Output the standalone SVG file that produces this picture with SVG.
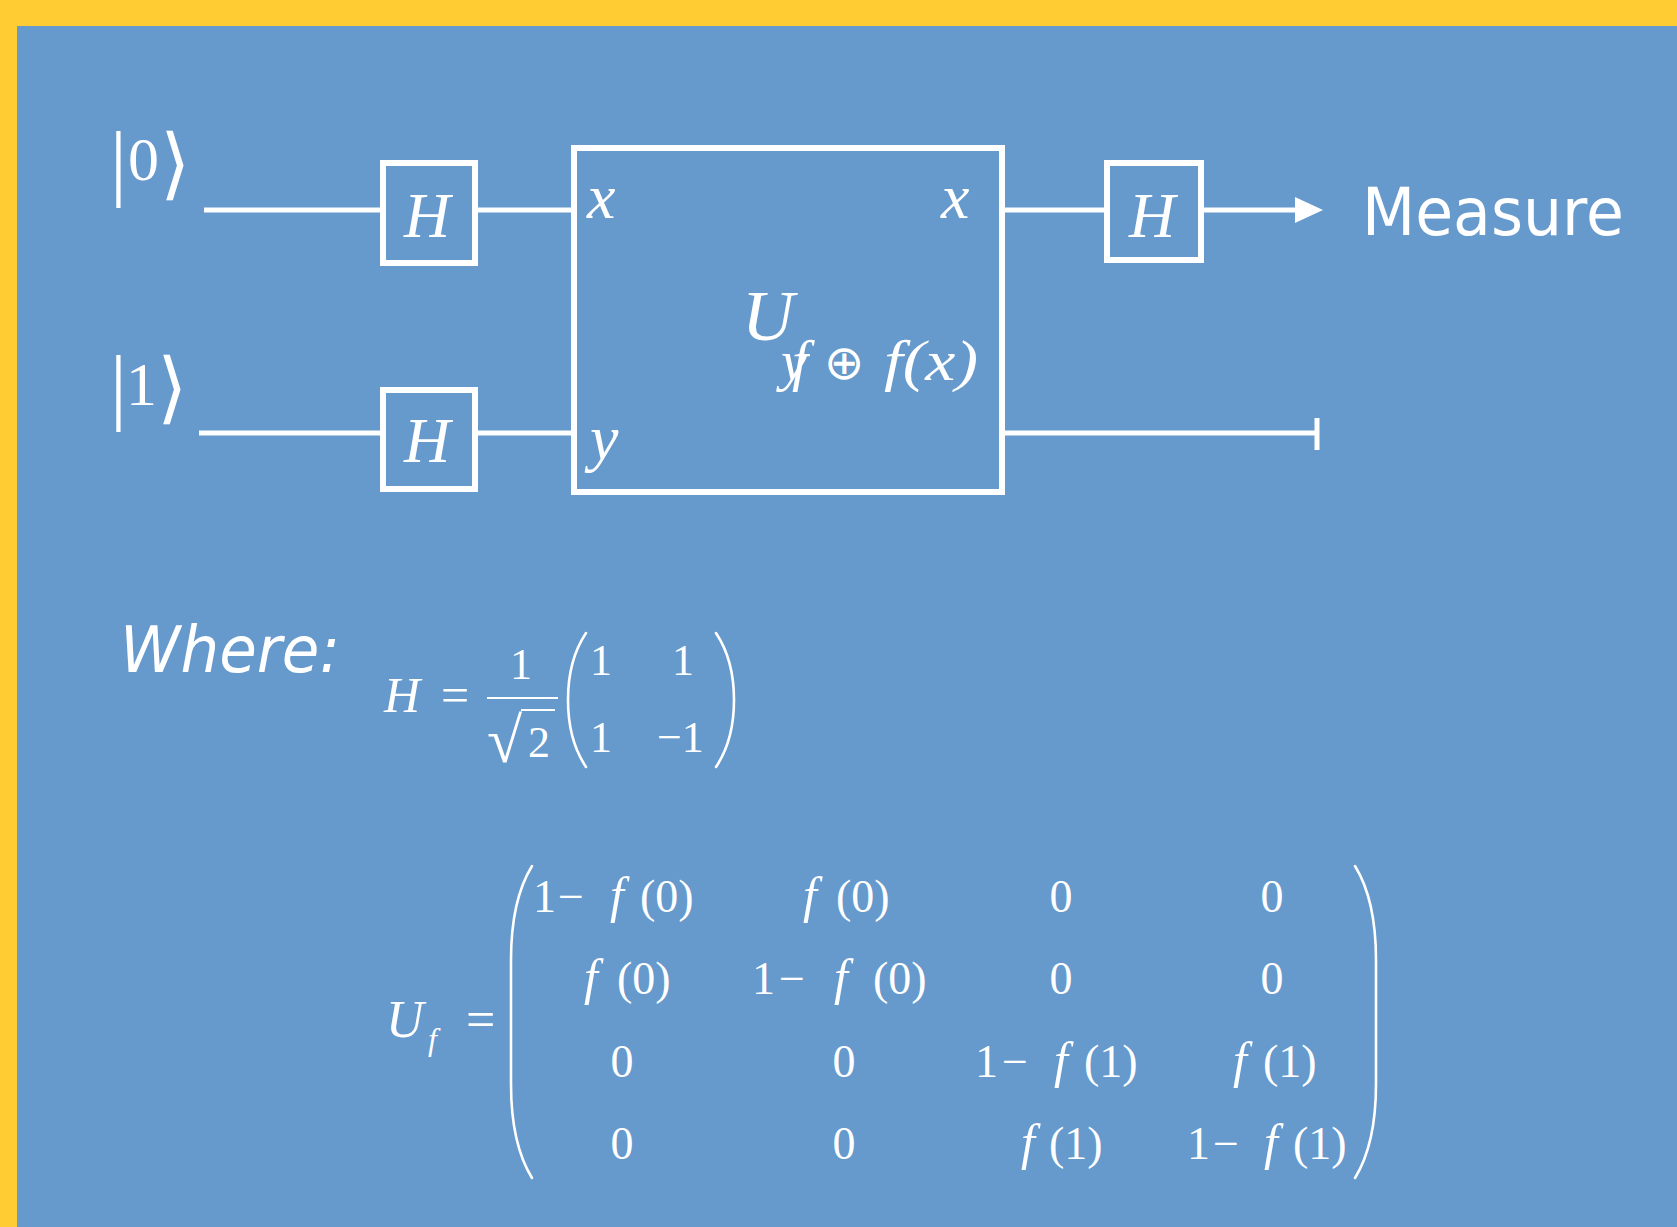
<svg xmlns="http://www.w3.org/2000/svg" width="1677" height="1227" viewBox="0 0 1677 1227">
<style>
.wire{stroke:#fff;stroke-width:5;fill:none}
.box{stroke:#fff;stroke-width:6;fill:none}
.delim{stroke:#fff;stroke-width:2.6;fill:none;stroke-linecap:round}
.m{font-family:"Liberation Serif","Times New Roman",serif;fill:#fff}
.i{font-style:italic}
.s{font-family:"DejaVu Sans",Verdana,sans-serif;fill:#fff}
.ff{font-style:italic;font-size:50px}
</style>
<defs>
<marker id="arr" markerUnits="userSpaceOnUse" markerWidth="30" markerHeight="26" refX="2" refY="13" orient="auto">
<path d="M0,0 L28,13 L0,26 z" fill="#fff"/>
</marker>
</defs>
<rect x="0" y="0" width="1677" height="1227" fill="#FFCC33"/>
<rect x="17" y="26" width="1660" height="1201" fill="#6699CC"/>

<g id="connectors">
<line class="wire" x1="204" y1="210" x2="380" y2="210"/>
<line class="wire" x1="478" y1="210" x2="571" y2="210"/>
<line class="wire" x1="1005" y1="210" x2="1104" y2="210"/>
<line class="wire" x1="1204" y1="210" x2="1297" y2="210" marker-end="url(#arr)"/>
<line class="wire" x1="199" y1="433" x2="380" y2="433"/>
<line class="wire" x1="478" y1="433" x2="571" y2="433"/>
<line class="wire" x1="1005" y1="433" x2="1317" y2="433"/>
<line class="wire" x1="1317" y1="418" x2="1317" y2="450" stroke-width="6"/>
</g>

<g id="ket0">
<text class="m"><tspan x="110" y="190" font-size="84">|</tspan><tspan x="128" y="180" font-size="62">0</tspan><tspan x="160" y="190" font-size="78" font-family="'DejaVu Sans',sans-serif">⟩</tspan></text>
</g>
<g id="ket1">
<text class="m"><tspan x="110" y="414" font-size="84">|</tspan><tspan x="126" y="405" font-size="62">1</tspan><tspan x="157" y="414" font-size="78" font-family="'DejaVu Sans',sans-serif">⟩</tspan></text>
</g>

<g id="h1">
<rect class="box" x="383" y="163" width="92" height="100"/>
<text class="m i" x="427" y="237" font-size="64" text-anchor="middle">H</text>
</g>
<g id="h2">
<rect class="box" x="383" y="390" width="92" height="99"/>
<text class="m i" x="427" y="462" font-size="64" text-anchor="middle">H</text>
</g>
<g id="uf">
<rect class="box" x="574" y="148" width="428" height="344"/>
<text class="m i" x="587" y="218" font-size="64">x</text>
<text class="m i" x="590" y="459" font-size="64">y</text>
<text class="m i" x="941" y="218" font-size="64">x</text>
<text class="m i"><tspan x="742" y="340" font-size="72">U</tspan><tspan x="781" y="380" font-size="58">y</tspan><tspan x="792" y="380" font-size="58">f</tspan><tspan x="824" y="379" font-size="48" font-style="normal" font-family="'DejaVu Sans',sans-serif">⊕</tspan><tspan x="884" y="380" font-size="58" textLength="94" lengthAdjust="spacingAndGlyphs">f(x)</tspan></text>
</g>
<g id="h3">
<rect class="box" x="1107" y="163" width="94" height="97"/>
<text class="m i" x="1152" y="237" font-size="64" text-anchor="middle">H</text>
</g>
<g id="measure">
<text class="s" x="1362" y="235" font-size="66" textLength="262" lengthAdjust="spacingAndGlyphs">Measure</text>
</g>

<g id="where">
<text class="s" x="120" y="672" font-size="64" font-style="italic" textLength="220" lengthAdjust="spacingAndGlyphs">Where:</text>
</g>

<g id="hmatrix">
<text class="m i" x="384" y="712" font-size="50">H</text>
<text class="m" x="441" y="712" font-size="50">=</text>
<text class="m" x="510" y="679" font-size="44">1</text>
<line x1="487" y1="698" x2="558" y2="698" stroke="#fff" stroke-width="2"/>
<text class="m" x="487" y="762" font-size="64">√</text>
<line x1="521" y1="710" x2="555" y2="710" stroke="#fff" stroke-width="2"/>
<text class="m" x="528" y="757" font-size="44">2</text>
<path class="delim" d="M586,633 Q568,660 568,700 Q568,740 586,767"/>
<path class="delim" d="M716,633 Q734,660 734,700 Q734,740 716,767"/>
<text class="m" x="590" y="675" font-size="44">1</text>
<text class="m" x="672" y="675" font-size="44">1</text>
<text class="m" x="590" y="752" font-size="44">1</text>
<text class="m" x="657" y="752" font-size="44">−1</text>
</g>

<g id="ufmatrix">
<text class="m i" x="386" y="1037" font-size="52">U</text>
<text class="m i" x="428" y="1050" font-size="32">f</text>
<text class="m" x="466" y="1037" font-size="52">=</text>
<path class="delim" d="M532,866 Q511,900 511,960 L511,1084 Q511,1144 532,1178"/>
<path class="delim" d="M1355,866 Q1376,900 1376,960 L1376,1084 Q1376,1144 1355,1178"/>
<g font-size="46">
<text class="m" y="912"><tspan x="533">1</tspan><tspan x="558">−</tspan><tspan x="610" class="ff">f</tspan><tspan x="640">(0)</tspan></text>
<text class="m" y="912"><tspan x="803" class="ff">f</tspan><tspan x="836">(0)</tspan></text>
<text class="m" x="1061" y="912" text-anchor="middle">0</text>
<text class="m" x="1272" y="912" text-anchor="middle">0</text>

<text class="m" y="994"><tspan x="584" class="ff">f</tspan><tspan x="617">(0)</tspan></text>
<text class="m" y="994"><tspan x="752">1</tspan><tspan x="779">−</tspan><tspan x="834" class="ff">f</tspan><tspan x="873">(0)</tspan></text>
<text class="m" x="1061" y="994" text-anchor="middle">0</text>
<text class="m" x="1272" y="994" text-anchor="middle">0</text>

<text class="m" x="622" y="1077" text-anchor="middle">0</text>
<text class="m" x="844" y="1077" text-anchor="middle">0</text>
<text class="m" y="1077"><tspan x="975">1</tspan><tspan x="1002">−</tspan><tspan x="1054" class="ff">f</tspan><tspan x="1084">(1)</tspan></text>
<text class="m" y="1077"><tspan x="1233" class="ff">f</tspan><tspan x="1263">(1)</tspan></text>

<text class="m" x="622" y="1159" text-anchor="middle">0</text>
<text class="m" x="844" y="1159" text-anchor="middle">0</text>
<text class="m" y="1159"><tspan x="1021" class="ff">f</tspan><tspan x="1049">(1)</tspan></text>
<text class="m" y="1159"><tspan x="1187">1</tspan><tspan x="1213">−</tspan><tspan x="1264" class="ff">f</tspan><tspan x="1293">(1)</tspan></text>
</g>
</g>
</svg>
